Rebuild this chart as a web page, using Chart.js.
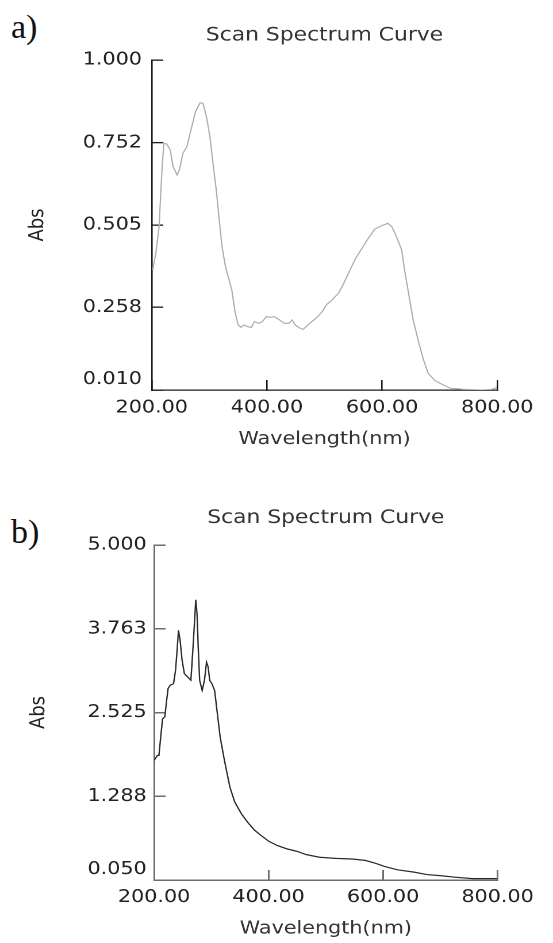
<!DOCTYPE html>
<html>
<head>
<meta charset="utf-8">
<script src="https://cdn.jsdelivr.net/npm/chart.js@4.4.1/dist/chart.umd.min.js"></script>
<style>
    html, body { margin: 0; padding: 0; background: #fff; }
    body { position: relative; width: 553px; height: 943px; overflow: hidden; }
    canvas { position: absolute; left: 0; }
    .panel-label {
        position: absolute;
        left: 11px;
        font-family: "Liberation Serif", "DejaVu Serif", serif;
        font-size: 34px;
        line-height: 34px;
        color: #111;
    }
</style>
</head>
<body>
<div class="panel-label" style="top: 10px;">a)</div>
<div class="panel-label" style="top: 515px;">b)</div>
<!-- drawn narrower and stretched by css, the original scan is wider than tall -->
<canvas id="chartA" width="481" height="470" style="top: 0; width: 553px; height: 470px;"></canvas>
<canvas id="chartB" width="481" height="473" style="top: 470px; width: 553px; height: 473px;"></canvas>
<script>
const xTicks = [200, 400, 600, 800];

// a) light curve
const wavelengthA = [201.6, 207, 212.7, 215, 218, 221, 226, 232, 237, 244, 248, 254, 261, 268, 276, 284, 289, 295, 301, 307,
    312, 316, 322, 328, 339, 345, 350, 355, 360, 367, 373, 378, 386, 392, 399, 405, 413, 422, 430, 438,
    444, 449, 458, 463, 471, 485, 496, 503, 513, 524, 532, 543, 554, 565, 576, 587, 598, 610, 617, 625,
    634, 639, 646, 654, 664, 672, 680, 692, 703, 719, 741, 774, 791, 799];
const absA = [0.37, 0.42, 0.50, 0.58, 0.68, 0.75, 0.748, 0.73, 0.68, 0.655, 0.67, 0.72, 0.74, 0.79, 0.845, 0.872, 0.87, 0.83, 0.77, 0.68,
    0.61, 0.54, 0.44, 0.38, 0.31, 0.24, 0.205, 0.198, 0.205, 0.20, 0.198, 0.215, 0.21, 0.215, 0.23, 0.228, 0.23, 0.22, 0.21, 0.21,
    0.22, 0.205, 0.195, 0.192, 0.205, 0.225, 0.245, 0.265, 0.28, 0.30, 0.325, 0.365, 0.405, 0.435, 0.465, 0.492, 0.502, 0.51, 0.50, 0.47,
    0.43, 0.37, 0.30, 0.22, 0.15, 0.10, 0.06, 0.038, 0.028, 0.015, 0.012, 0.010, 0.012, 0.018];
const yTicksA = [0.010, 0.258, 0.505, 0.752, 1.000];

// b) dark curve
const wavelengthB = [200, 205.7, 208.5, 211, 214.8, 218.8, 221.6, 224.5, 228.4, 234, 237.5, 239.8, 242.7, 245.5, 248.9, 252.9, 258.6, 264.3, 267, 270.5,
    272.8, 275, 277.3, 279.6, 284, 288, 291.6, 294.4, 297.2, 301, 305.8, 309.8, 315.5, 322.8, 332.5, 341, 352.4, 363.8, 375, 386.5,
    400.7, 415, 432, 449, 466, 489, 517, 546, 568.5, 585.6, 602.6, 625, 654, 676.6, 699, 727.8, 756, 779, 799];
const absB = [1.817, 1.89, 1.89, 2.11, 2.43, 2.46, 2.68, 2.88, 2.93, 2.95, 3.15, 3.40, 3.74, 3.59, 3.30, 3.10, 3.05, 3.00, 3.35, 3.84,
    4.19, 3.99, 3.45, 3.00, 2.85, 3.00, 3.27, 3.20, 3.00, 2.95, 2.85, 2.56, 2.16, 1.82, 1.42, 1.20, 1.03, 0.90, 0.79, 0.71,
    0.62, 0.56, 0.51, 0.475, 0.425, 0.386, 0.37, 0.36, 0.34, 0.30, 0.25, 0.20, 0.166, 0.13, 0.115, 0.09, 0.07, 0.07, 0.07];
const yTicksB = [0.050, 1.288, 2.525, 3.763, 5.000];

const FONT = 'DejaVu Sans';

function buildChart(canvasId, xs, ys, yTicks, look) {
    const points = xs.map((x, i) => ({ x: x, y: ys[i] }));
    const yMin = yTicks[0];
    const yMax = yTicks[yTicks.length - 1];

    // bottom label sits a bit above the axis in the original, push it up with an empty 2nd line
    const yLabel = (v) => Math.abs(v - yMin) < 1e-6 ? [v.toFixed(3), ''] : v.toFixed(3);

    const axisGrid = { drawOnChartArea: false, drawTicks: true, tickLength: -10, color: look.axisColor, lineWidth: look.axisWidth };
    const axisBorder = { display: true, color: look.axisColor, width: look.axisWidth };

    return new Chart(document.getElementById(canvasId), {
        type: 'line',
        data: {
            datasets: [{
                data: points,
                borderColor: look.lineColor,
                borderWidth: look.lineWidth,
                pointRadius: 0,
                tension: 0,
                fill: false
            }]
        },
        options: {
            responsive: false,
            animation: false,
            devicePixelRatio: 2,
            layout: { padding: { left: 0, right: look.padRight, top: 0, bottom: 0 } },
            plugins: {
                legend: { display: false },
                tooltip: { enabled: false },
                title: {
                    display: true,
                    text: 'Scan Spectrum Curve',
                    fullSize: false,
                    color: '#333',
                    font: { family: FONT, size: 19, weight: 'normal' },
                    padding: look.titlePad
                }
            },
            scales: {
                x: {
                    type: 'linear',
                    min: 200,
                    max: 800,
                    afterBuildTicks: (s) => { s.ticks = xTicks.map(v => ({ value: v })); },
                    afterFit: (s) => { s.height = look.xHeight; },
                    ticks: {
                        callback: (v) => v.toFixed(2),
                        color: '#222',
                        font: { family: FONT, size: 18 },
                        padding: look.xTickPad,
                        maxRotation: 0,
                        autoSkip: false
                    },
                    grid: axisGrid,
                    border: axisBorder,
                    title: {
                        display: true,
                        text: 'Wavelength(nm)',
                        color: '#333',
                        font: { family: FONT, size: 18 },
                        padding: { top: 0, bottom: look.xTitlePad }
                    }
                },
                y: {
                    type: 'linear',
                    min: yMin,
                    max: yMax,
                    afterBuildTicks: (s) => { s.ticks = yTicks.map(v => ({ value: v })); },
                    afterFit: (s) => { s.width = look.yWidth; },
                    ticks: {
                        callback: yLabel,
                        color: '#222',
                        font: { family: FONT, size: 18 },
                        padding: look.yTickPad,
                        autoSkip: false
                    },
                    grid: axisGrid,
                    border: axisBorder,
                    title: {
                        display: true,
                        text: 'Abs',
                        color: '#222',
                        font: { family: FONT, size: 18 },
                        padding: { top: look.yTitlePad, bottom: 0 }
                    }
                }
            }
        }
    });
}

buildChart('chartA', wavelengthA, absA, yTicksA, {
    lineColor: '#acacac',
    lineWidth: 1.1,
    axisColor: '#1a1a1a',
    axisWidth: 1.3,
    padRight: 33,
    yWidth: 132,
    xHeight: 80,
    titlePad: { top: 24.4, bottom: 12.8 },
    xTickPad: 17,
    xTitlePad: 20,
    yTickPad: 18.5,
    yTitlePad: 22.2
});

buildChart('chartB', wavelengthB, absB, yTicksB, {
    lineColor: '#2a2a2a',
    lineWidth: 1.2,
    axisColor: '#6d6d6d',
    axisWidth: 1.5,
    padRight: 41,
    yWidth: 134,
    xHeight: 63,
    titlePad: { top: 36.6, bottom: 15.6 },
    xTickPad: 16.7,
    xTitlePad: 3.2,
    yTickPad: 16.4,
    yTitlePad: 23.2
});
</script>
</body>
</html>
